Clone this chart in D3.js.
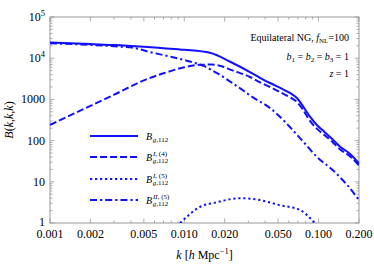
<!DOCTYPE html>
<html>
<head>
<meta charset="utf-8">
<script src="https://cdn.jsdelivr.net/npm/d3@7"></script>
<style>
  body { margin: 0; background: #fff; }
  svg { display: block; font-family: "Liberation Serif", "DejaVu Serif", serif; }
</style>
</head>
<body>
<svg id="chart"></svg>
<script>
// values
var kTotal = [0.001, 0.002, 0.003, 0.005, 0.007, 0.01, 0.0155, 0.022, 0.0308, 0.0366, 0.0435, 0.0543, 0.062, 0.069, 0.0766, 0.0863, 0.097, 0.108, 0.128, 0.144, 0.171, 0.2]
var bTotal = [24000, 22000, 21000, 19000, 17500, 16000, 13500, 8200, 4600, 3350, 2500, 1750, 1400, 1080, 680, 380, 240, 175, 105, 72, 48, 28]

var kI4 = [0.001, 0.0015, 0.002, 0.003, 0.005, 0.007, 0.01, 0.013, 0.016, 0.019, 0.022, 0.0308, 0.0366, 0.0435, 0.0543, 0.062, 0.069, 0.0766, 0.0863, 0.097, 0.108, 0.128, 0.144, 0.171, 0.2]
var bI4 = [240, 450, 700, 1300, 2900, 4300, 6000, 6900, 7000, 6400, 5300, 3500, 2600, 2000, 1380, 1100, 870, 560, 300, 195, 145, 90, 62, 42, 25]

var kI5 = [0.0093, 0.0131, 0.0175, 0.026, 0.0366, 0.0516, 0.0728, 0.0894, 0.094]
var bI5 = [1.0, 2.45, 3.2, 4.0, 3.6, 2.7, 2.07, 1.18, 1.0]

var kII5 = [0.001, 0.002, 0.003, 0.0045, 0.0056, 0.0078, 0.011, 0.0139, 0.0174, 0.022, 0.0274, 0.0308, 0.0435, 0.0728, 0.0973, 0.128, 0.163, 0.2]
var bII5 = [23000, 21000, 19500, 17000, 14000, 11000, 8300, 6500, 4400, 2700, 1650, 1250, 620, 115, 40, 19, 8.4, 3.6]

var xTickValues = [0.001, 0.002, 0.005, 0.01, 0.02, 0.05, 0.1, 0.2]
var xTickLabels = ["0.001", "0.002", "0.005", "0.010", "0.020", "0.050", "0.100", "0.200"]
var yTickValues = [1, 10, 100, 1000, 1e4, 1e5]
var yTickLabels = [["1"], ["10"], ["100"], ["1000"], ["10", "4"], ["10", "5"]]

var series = [
  { k: kTotal, b: bTotal, dash: null, sup: null },
  { k: kI4, b: bI4, dash: "7,3", sup: "I,(4)" },
  { k: kI5, b: bI5, dash: "2.2,2.8", sup: "I,(5)" },
  { k: kII5, b: bII5, dash: "7,3,2.2,3", sup: "II,(5)" }
]

var width = 374, height = 267
var margin = { top: 17, right: 15, bottom: 44, left: 50 }
var blue = "#1010ff", frameColor = "#999"

var svg = d3.select("#chart")
    .attr("width", width)
    .attr("height", height)

var x = d3.scaleLog().domain([0.001, 0.2]).range([margin.left, width - margin.right])
var y = d3.scaleLog().domain([1, 1e5]).range([height - margin.bottom, margin.top])

svg.append("clipPath").attr("id", "clip")
  .append("rect")
    .attr("x", x.range()[0]).attr("y", y.range()[1])
    .attr("width", x.range()[1] - x.range()[0])
    .attr("height", y.range()[0] - y.range()[1])

// minor + major ticks on all four sides, pointing inward
var xMinor = [], yMinor = []
for (var e = -3; e <= -1; e++)
  for (var m = 1; m < 10; m++) {
    var v = m * Math.pow(10, e)
    if (v <= 0.2 + 1e-9) xMinor.push(v)
  }
for (var e = 0; e < 5; e++)
  for (var m = 2; m < 10; m++) yMinor.push(m * Math.pow(10, e))

var x0 = x.range()[0], x1 = x.range()[1], y0 = y.range()[0], y1 = y.range()[1]
var ticks = svg.append("g").attr("stroke", frameColor).attr("stroke-width", 0.8)

function isMajorX(v) { return xTickValues.some(t => Math.abs(t - v) < 1e-9) }
xMinor.forEach(function (v) {
  var len = isMajorX(v) ? 4.5 : 2.5
  ticks.append("line").attr("x1", x(v)).attr("x2", x(v)).attr("y1", y0).attr("y2", y0 - len)
  ticks.append("line").attr("x1", x(v)).attr("x2", x(v)).attr("y1", y1).attr("y2", y1 + len)
})
yTickValues.concat(yMinor).forEach(function (v) {
  var len = yTickValues.indexOf(v) >= 0 ? 4.5 : 2.5
  ticks.append("line").attr("y1", y(v)).attr("y2", y(v)).attr("x1", x0).attr("x2", x0 + len)
  ticks.append("line").attr("y1", y(v)).attr("y2", y(v)).attr("x1", x1).attr("x2", x1 - len)
})

svg.append("rect")
    .attr("x", x0).attr("y", y1)
    .attr("width", x1 - x0).attr("height", y0 - y1)
    .attr("fill", "none")
    .attr("stroke", frameColor)
    .attr("stroke-width", 1)

// tick labels
svg.append("g").selectAll("text")
  .data(xTickValues)
  .enter().append("text")
    .attr("x", d => x(d))
    .attr("y", y0 + 15)
    .attr("text-anchor", "middle")
    .attr("font-size", 12)
    .text((d, i) => xTickLabels[i])

var yl = svg.append("g").selectAll("text")
  .data(yTickValues)
  .enter().append("text")
    .attr("x", x0 - 5)
    .attr("y", d => y(d) + (d === 1 ? 2.5 : 4))
    .attr("text-anchor", "end")
    .attr("font-size", 12)
yl.append("tspan").text((d, i) => yTickLabels[i][0])
yl.filter((d, i) => yTickLabels[i].length > 1)
  .append("tspan")
    .attr("dy", -5)
    .attr("font-size", 8.5)
    .text((d, i) => yTickLabels[yTickValues.indexOf(d)][1])

// axis titles
var ytitle = svg.append("text")
    .attr("transform", "translate(13," + ((y0 + y1) / 2) + ") rotate(-90)")
    .attr("text-anchor", "middle")
    .attr("font-size", 12)
ytitle.append("tspan").attr("font-style", "italic").text("B")
ytitle.append("tspan").text("(")
ytitle.append("tspan").attr("font-style", "italic").text("k")
ytitle.append("tspan").text(",")
ytitle.append("tspan").attr("font-style", "italic").text("k")
ytitle.append("tspan").text(",")
ytitle.append("tspan").attr("font-style", "italic").text("k")
ytitle.append("tspan").text(")")

var xtitle = svg.append("text")
    .attr("x", (x0 + x1) / 2)
    .attr("y", 259)
    .attr("text-anchor", "middle")
    .attr("font-size", 12)
xtitle.append("tspan").attr("font-style", "italic").text("k")
xtitle.append("tspan").text(" [")
xtitle.append("tspan").attr("font-style", "italic").text("h")
xtitle.append("tspan").text(" Mpc")
xtitle.append("tspan").attr("dy", -5).attr("font-size", 8.5).text("\u22121")
xtitle.append("tspan").attr("dy", 5).text("]")

// curves
var line = d3.line()
    .x(d => x(d[0]))
    .y(d => y(d[1]))
    .curve(d3.curveMonotoneX)

svg.append("g").attr("clip-path", "url(#clip)")
  .selectAll("path")
  .data(series)
  .enter().append("path")
    .attr("d", s => line(d3.zip(s.k, s.b)))
    .attr("fill", "none")
    .attr("stroke", blue)
    .attr("stroke-width", 2)
    .attr("stroke-dasharray", s => s.dash)

// legend
var legendY = [136, 157, 179, 200]
var legend = svg.append("g")
series.forEach(function (s, i) {
  legend.append("line")
      .attr("x1", 90).attr("x2", 138)
      .attr("y1", legendY[i]).attr("y2", legendY[i])
      .attr("stroke", blue)
      .attr("stroke-width", 2)
      .attr("stroke-dasharray", s.dash)
  var bx = 146, by = legendY[i] + 3.5
  legend.append("text").attr("x", bx).attr("y", by)
      .attr("font-size", 10).attr("font-style", "italic").text("B")
  var sub = legend.append("text").attr("x", bx + 6.8).attr("y", by + 2.5).attr("font-size", 7)
  sub.append("tspan").attr("font-style", "italic").text("g")
  sub.append("tspan").text(",112")
  if (s.sup) {
    var sup = legend.append("text").attr("x", bx + 7).attr("y", by - 5).attr("font-size", 7)
    var parts = s.sup.split(",")
    sup.append("tspan").attr("font-style", "italic").text(parts[0])
    sup.append("tspan").text(", " + parts[1])
  }
})

// annotation
var ann = svg.append("g").attr("font-size", 10).attr("text-anchor", "end")
var a1 = ann.append("text").attr("x", 349).attr("y", 41)
a1.append("tspan").text("Equilateral NG, ")
a1.append("tspan").attr("font-style", "italic").text("f")
a1.append("tspan").attr("dy", 2).attr("font-size", 7).text("NL")
a1.append("tspan").attr("dy", -2).text("=100")

var a2 = ann.append("text").attr("x", 349).attr("y", 60)
;[["b", "1"], ["b", "2"], ["b", "3"]].forEach(function (p, i) {
  a2.append("tspan").attr("font-style", "italic").text(p[0])
  a2.append("tspan").attr("dy", 2).attr("font-size", 7).text(p[1])
  a2.append("tspan").attr("dy", -2).text(i < 2 ? " = " : " = 1")
})

var a3 = ann.append("text").attr("x", 349).attr("y", 77)
a3.append("tspan").attr("font-style", "italic").text("z")
a3.append("tspan").text(" = 1")
</script>
</body>
</html>
